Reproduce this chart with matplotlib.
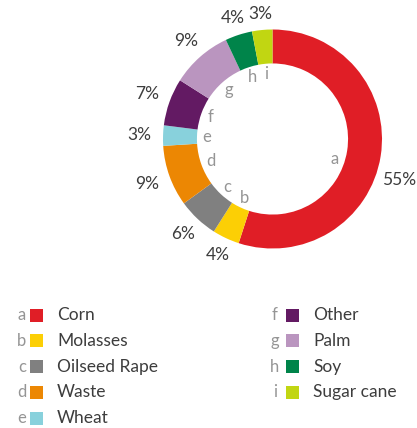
import matplotlib
matplotlib.use('Agg')
import matplotlib.pyplot as plt
from matplotlib.patches import Rectangle
import numpy as np

plt.rcParams['font.family'] = ['Lato', 'DejaVu Sans']

# Data
sources = ['Corn', 'Molasses', 'Oilseed Rape', 'Waste', 'Wheat',
           'Other', 'Palm', 'Soy', 'Sugar cane']
letters = ['a', 'b', 'c', 'd', 'e', 'f', 'g', 'h', 'i']
shares = [55, 4, 6, 9, 3, 7, 9, 4, 3]

COLORS = ['#E01E26', '#FCCF05', '#808080', '#EC8703', '#88D1DC',
          '#631A63', '#BA95BF', '#00844A', '#C1D612']
TEXT_DARK = '#3D3D3D'
TEXT_LIGHT = '#959595'

# label angle nudges (degrees), the big slice label sits a bit lower
LABEL_NUDGE = {'Corn': -9}

W, H = 417, 428
fig = plt.figure(figsize=(W / 100, H / 100), dpi=100)

# === Donut ===
cx, cy, R = 272.5, 139, 109.5   # pixel centre / radius
L = 1.3
side = 2 * L * R
ax = fig.add_axes([(cx - side / 2) / W, (H - cy - side / 2) / H, side / W, side / H])
wedges, _ = ax.pie(shares, colors=COLORS, startangle=90, counterclock=False,
                   radius=1, wedgeprops=dict(width=0.31, linewidth=0))
ax.set_xlim(-L, L)
ax.set_ylim(-L, L)
ax.set_aspect('equal')
ax.axis('off')

for w, name, let, val in zip(wedges, sources, letters, shares):
    ang = np.deg2rad((w.theta1 + w.theta2) / 2 + LABEL_NUDGE.get(name, 0))
    ax.text(0.6 * np.cos(ang), 0.6 * np.sin(ang), let, ha='center', va='center',
            fontsize=12, color=TEXT_LIGHT)
    # wider text needs more room at the sides than at the top
    r_out = 1.14 + 0.08 * abs(np.cos(ang))
    ax.text(r_out * np.cos(ang), r_out * np.sin(ang), f'{val}%', ha='center', va='center',
            fontsize=12.5, color=TEXT_DARK)

# === Legend (drawn in pixel space) ===
lax = fig.add_axes([0, 0, 1, 1], zorder=-1)
lax.set_xlim(0, W)
lax.set_ylim(H, 0)
lax.axis('off')

row_y0, row_dy = 315, 25.8
columns = [(22, 30, 57), (275, 286, 313)]   # letter x, square x, label x
sq = 13
for i, (name, let, col) in enumerate(zip(sources, letters, COLORS)):
    c = 0 if i < 5 else 1
    r = i if i < 5 else i - 5
    y = row_y0 + r * row_dy
    xl, xs, xt = columns[c]
    lax.text(xl, y, let, ha='center', va='center', fontsize=12, color=TEXT_LIGHT)
    lax.add_patch(Rectangle((xs, y - sq / 2), sq, sq, color=col, linewidth=0))
    lax.text(xt, y, name, ha='left', va='center', fontsize=12.5, color=TEXT_DARK)

fig.savefig('out.png', dpi=100, facecolor='white')
